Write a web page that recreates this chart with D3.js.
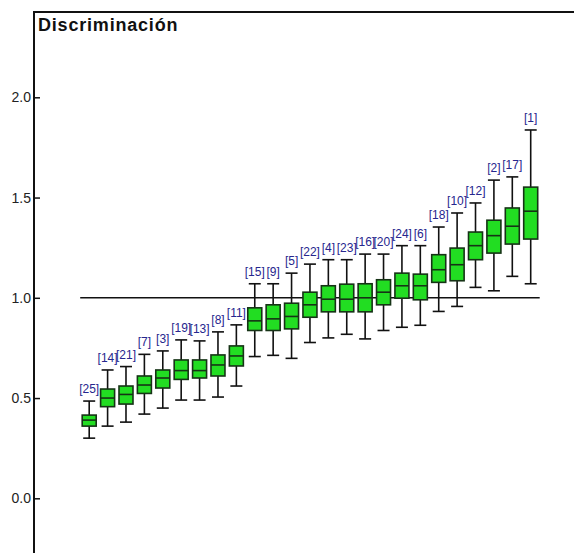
<!DOCTYPE html>
<html>
<head>
<meta charset="utf-8">
<script src="https://cdn.jsdelivr.net/npm/d3@7/dist/d3.min.js"></script>
<style>
  html, body { margin: 0; padding: 0; background: #fff; }
  svg { display: block; }
</style>
</head>
<body>
<svg id="chart" width="574" height="553"></svg>
<script>
// ---- data (left to right) ----
const labels      = ["25","14","21","7","3","19","13","8","11","15","9","5","22","4","23","16","20","24","6","18","10","12","2","17","1"];
const whiskerLow  = [0.300,0.360,0.380,0.420,0.450,0.490,0.490,0.505,0.560,0.707,0.713,0.698,0.777,0.800,0.818,0.795,0.837,0.853,0.863,0.932,0.957,1.052,1.035,1.107,1.070];
const q1          = [0.360,0.457,0.470,0.523,0.550,0.593,0.600,0.610,0.660,0.837,0.837,0.845,0.903,0.930,0.930,0.930,0.965,0.998,0.990,1.077,1.085,1.190,1.223,1.268,1.293];
const median      = [0.390,0.500,0.518,0.565,0.600,0.637,0.637,0.665,0.710,0.885,0.895,0.907,0.965,0.993,0.993,1.000,1.028,1.060,1.060,1.140,1.165,1.260,1.310,1.357,1.432];
const q3          = [0.415,0.545,0.560,0.610,0.640,0.690,0.690,0.715,0.760,0.950,0.965,0.973,1.028,1.060,1.068,1.070,1.090,1.123,1.118,1.215,1.248,1.328,1.387,1.448,1.552];
const whiskerHigh = [0.485,0.640,0.657,0.718,0.735,0.790,0.785,0.830,0.865,1.070,1.070,1.123,1.168,1.190,1.190,1.218,1.218,1.260,1.260,1.353,1.423,1.473,1.587,1.603,1.837];
const yTicks      = [0.0, 0.5, 1.0, 1.5, 2.0];
const refValue    = 1.0;
const title       = "Discriminación";

const rows = labels.map((l, i) => ({
  label: l, lo: whiskerLow[i], q1: q1[i], med: median[i], q3: q3[i], hi: whiskerHigh[i]
}));

const svg = d3.select("#chart");
const axisX = 34, topY = 12, bottomY = 553;

const y = d3.scaleLinear().domain([0, 2]).range([498.3, 97.3]);
const x = d3.scalePoint().domain(labels).range([89.2, 530.7]);

// background
svg.append("rect").attr("width", 574).attr("height", 553).attr("fill", "#fff");

// reference line
svg.append("line")
  .attr("x1", x(labels[0]) - 9).attr("x2", x(labels[labels.length - 1]) + 9)
  .attr("y1", y(refValue)).attr("y2", y(refValue))
  .attr("stroke", "#111").attr("stroke-width", 1.5);

// boxes
const boxW = 14, capW = 12;
const g = svg.append("g").selectAll("g").data(rows).join("g");

g.append("line")
  .attr("x1", d => x(d.label)).attr("x2", d => x(d.label))
  .attr("y1", d => y(d.hi)).attr("y2", d => y(d.lo))
  .attr("stroke", "#111").attr("stroke-width", 1.6);
g.append("line")
  .attr("x1", d => x(d.label) - capW / 2).attr("x2", d => x(d.label) + capW / 2)
  .attr("y1", d => y(d.hi)).attr("y2", d => y(d.hi))
  .attr("stroke", "#111").attr("stroke-width", 1.6);
g.append("line")
  .attr("x1", d => x(d.label) - capW / 2).attr("x2", d => x(d.label) + capW / 2)
  .attr("y1", d => y(d.lo)).attr("y2", d => y(d.lo))
  .attr("stroke", "#111").attr("stroke-width", 1.6);
g.append("rect")
  .attr("x", d => x(d.label) - boxW / 2).attr("width", boxW)
  .attr("y", d => y(d.q3)).attr("height", d => y(d.q1) - y(d.q3))
  .attr("fill", "#22dd22").attr("stroke", "#163316").attr("stroke-width", 1.6);
g.append("line")
  .attr("x1", d => x(d.label) - boxW / 2).attr("x2", d => x(d.label) + boxW / 2)
  .attr("y1", d => y(d.med)).attr("y2", d => y(d.med))
  .attr("stroke", "#163316").attr("stroke-width", 1.6);
g.append("text")
  .attr("x", d => x(d.label)).attr("y", d => y(d.hi) - 8)
  .attr("text-anchor", "middle")
  .attr("font-family", "Liberation Sans, Arial, sans-serif")
  .attr("font-size", 12)
  .attr("fill", "#26268e")
  .text(d => "[" + d.label + "]");

// y axis
const axis = d3.axisLeft(y).tickValues(yTicks).tickFormat(d3.format(".1f"))
  .tickSizeInner(-6).tickSizeOuter(0).tickPadding(3);
const ag = svg.append("g").attr("transform", `translate(${axisX},0)`).call(axis);
ag.select(".domain").remove();
ag.selectAll(".tick line").attr("stroke", "#111").attr("stroke-width", 1.5).attr("x1", -1);
ag.selectAll(".tick text")
  .attr("font-family", "Liberation Sans, Arial, sans-serif")
  .attr("font-size", 14).attr("fill", "#222");

// frame lines
svg.append("line").attr("x1", axisX).attr("x2", axisX).attr("y1", topY - 1).attr("y2", bottomY)
  .attr("stroke", "#111").attr("stroke-width", 2);
svg.append("line").attr("x1", axisX).attr("x2", 574).attr("y1", topY).attr("y2", topY)
  .attr("stroke", "#111").attr("stroke-width", 2);

// title
svg.append("text").attr("x", 38).attr("y", 31)
  .attr("font-family", "Liberation Sans, Arial, sans-serif")
  .attr("font-weight", "bold").attr("font-size", 18).attr("letter-spacing", 0.8).attr("fill", "#111")
  .text(title);
</script>
</body>
</html>
